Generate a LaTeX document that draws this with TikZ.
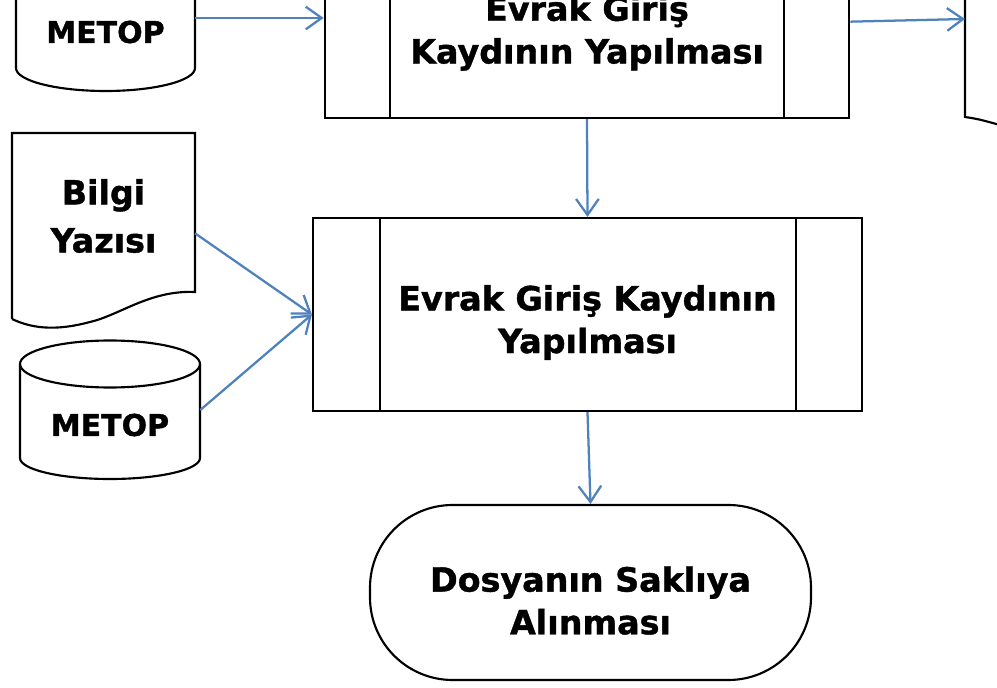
\documentclass[tikz,border=0pt]{standalone}
\usepackage{fontspec}
\setmainfont{DejaVu Sans}[BoldFeatures={FakeBold=1.2}]
\usetikzlibrary{arrows.meta, positioning, calc}
\definecolor{flowblue}{RGB}{79,129,189}
\newcommand{\ilksatir}{\rule{0pt}{31pt}}

\begin{document}
\begin{tikzpicture}[
  x = 0.75pt, y = -0.75pt,
  > = {Straight Barb[length=12pt, width=17pt]},
  flow arrow/.style = {->, flowblue, line width=1.7pt},
  outline/.style = {line width=1.6pt},
  big text/.style = {font=\bfseries\fontsize{25}{32}\selectfont, align=center},
  small text/.style = {font=\bfseries\fontsize{22.5}{26}\selectfont, align=center},
  proc/.style = {draw, outline, big text, inner sep=0pt}
]
  \useasboundingbox (0,0) rectangle (997,688);
  \clip (0,0) rectangle (997,688);

  % process boxes
  \node[proc, minimum width=393.4pt, minimum height=139.5pt] (kayit1) at (587,25) {\ilksatir Evrak Giriş\\Kaydının Yapılması};
  \draw[outline] ([xshift=49.5pt]kayit1.north west) -- ([xshift=49.5pt]kayit1.south west);
  \draw[outline] ([xshift=-49.5pt]kayit1.north east) -- ([xshift=-49.5pt]kayit1.south east);

  \node[proc, minimum width=411.75pt, minimum height=144.75pt] (kayit2) at (587.5,314.5) {\ilksatir Evrak Giriş Kaydının\\Yapılması};
  \draw[outline] ([xshift=51pt]kayit2.north west) -- ([xshift=51pt]kayit2.south west);
  \draw[outline] ([xshift=-50.25pt]kayit2.north east) -- ([xshift=-50.25pt]kayit2.south east);

  % terminal
  \node[draw, outline, big text, rounded corners=62pt, minimum width=330.75pt, minimum height=131.25pt] (saklama) at (590.5,592.5) {\ilksatir Dosyanın Saklıya\\Alınması};

  % document
  \draw[outline] (12,319) -- (12,133) -- (195,133) -- (195,292)
    .. controls (150,290) and (120,315) .. (90,322)
    .. controls (60,330) and (35,330) .. (12,319);
  \node[font=\bfseries\fontsize{25}{36}\selectfont, align=center, minimum width=137pt] (bilgi) at (103.5,216) {Bilgi\\Yazısı};

  % databases
  \draw[outline] (16,-10) -- (16,68) arc[start angle=180, end angle=0, x radius=89.5, y radius=23] -- (195,-10);
  \node[small text, minimum width=134.25pt] (metop1) at (105.5,32) {METOP};

  \draw[outline] (110,364) ellipse [x radius=90, y radius=23.5];
  \draw[outline] (20,364) -- (20,458) arc[start angle=180, end angle=0, x radius=90, y radius=21] -- (200,364);
  \node[small text, minimum width=135pt] (metop2) at (110,425) {METOP};

  % partial document on the right
  \draw[outline] (965,-10) -- (965,117) .. controls (978,119) .. (1000,125);
  \coordinate (sagbelge) at (965,19);

  \draw[flow arrow] ([yshift=10.5pt]metop1.east) -- ([yshift=10.5pt]metop1.east -| kayit1.west);
  \draw[flow arrow] ([yshift=2.5pt]kayit1.east) -- (sagbelge);
  \draw[flow arrow] (kayit1.south) -- (kayit2.north);
  \draw[flow arrow] ([yshift=-13pt]bilgi.east) -- (kayit2.west);
  \draw[flow arrow] ([yshift=11.25pt]metop2.east) -- (kayit2.west);
  \draw[flow arrow] (kayit2.south) -- (saklama.north);
\end{tikzpicture}
\end{document}
